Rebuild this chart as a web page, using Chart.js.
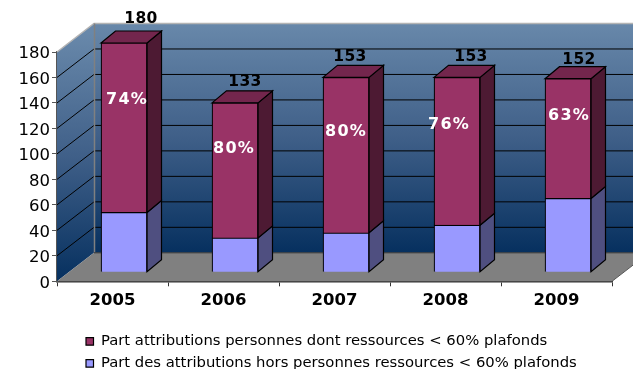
<!DOCTYPE html>
<html><head><meta charset="utf-8">
<style>html,body{margin:0;padding:0;background:#fff}#w{width:633px;height:369px;position:relative}</style>
<script src="https://cdn.jsdelivr.net/npm/chart.js@4"></script></head>
<body><div id="w"><canvas id="c" width="633" height="369"></canvas></div>
<script>
const categories = ['2005','2006','2007','2008','2009'];
const lowerShare = [47,27,31,37,58];
const upperShare = [133,106,122,116,94];
const totals = [180,133,153,153,152];
const percents = ['74%','80%','80%','76%','63%'];
const seriesUpperName = 'Part attributions personnes dont ressources < 60% plafonds';
const seriesLowerName = 'Part des attributions hors personnes ressources < 60% plafonds';
const yMax = 180, yStep = 20;

// styling of the 3D box
const DEPTH_X = 37, DEPTH_Y = 28.5;      // wall depth
const BAR_SHIFT_X = 11.5, BAR_SHIFT_Y = -9; // bars stand inside the floor
const BAR_DX = 14.5, BAR_DY = -12;       // bar depth
const totalDx = [17,10,4,14,11];
const totalDy = [-24,-21,-20,-20,-19];
const pctDx = [3,-1,0,-8,1];
const pctY = [135.5,97,110,116,123];     // axis height of percent label above bar base

function poly(ctx,pts,fill,stroke,lw){
  ctx.beginPath();pts.forEach((p,i)=>i?ctx.lineTo(p[0],p[1]):ctx.moveTo(p[0],p[1]));ctx.closePath();
  if(fill){ctx.fillStyle=fill;ctx.fill();}
  if(stroke){ctx.strokeStyle=stroke;ctx.lineWidth=lw||1;ctx.stroke();}
}
const box3d = {
  id:'box3d',
  beforeDatasetsDraw(chart){
    const {ctx,scales:{x,y}} = chart;
    const L=x.left,R=x.right,B=y.getPixelForValue(0),T=y.getPixelForValue(yMax);
    const bl=L+DEPTH_X,bb=B-DEPTH_Y,bt=T-DEPTH_Y,br=R+DEPTH_X;
    ctx.save();
    const g=ctx.createLinearGradient(0,bt,0,bb);
    g.addColorStop(0,'#6888aa');g.addColorStop(.5,'#3f5f88');g.addColorStop(1,'#06305f');
    poly(ctx,[[bl,bt],[br,bt],[br,bb],[bl,bb]],g);
    const g2=ctx.createLinearGradient(0,bt+10,0,B);
    g2.addColorStop(0,'#6888aa');g2.addColorStop(.5,'#3f5f88');g2.addColorStop(1,'#06305f');
    poly(ctx,[[L,T],[bl,bt],[bl,bb],[L,B]],g2);
    poly(ctx,[[L,B],[bl,bb],[br,bb],[R,B]],'#808080');
    y.ticks.forEach(t=>{
      if(t.value===0||t.value===yMax) return;
      const p=y.getPixelForValue(t.value);
      ctx.strokeStyle='#000';ctx.lineWidth=1;
      ctx.beginPath();ctx.moveTo(L,p);ctx.lineTo(bl,p-DEPTH_Y);ctx.lineTo(br,p-DEPTH_Y);ctx.stroke();
    });
    ctx.strokeStyle='#b4b4b4';ctx.lineWidth=1.5;
    ctx.beginPath();ctx.moveTo(L,T);ctx.lineTo(bl,bt);ctx.lineTo(br,bt);ctx.stroke();
    ctx.strokeStyle='#808080';ctx.lineWidth=1.5;
    ctx.beginPath();ctx.moveTo(bl+.5,bt);ctx.lineTo(bl+.5,bb);ctx.stroke();
    ctx.strokeStyle='#333';ctx.lineWidth=1;
    ctx.beginPath();ctx.moveTo(bl,bb);ctx.lineTo(br,bb);ctx.stroke();
    ctx.strokeStyle='#555';
    ctx.beginPath();ctx.moveTo(R,B);ctx.lineTo(br,bb);ctx.stroke();
    ctx.restore();
    ctx.save();
    ctx.translate(BAR_SHIFT_X,BAR_SHIFT_Y);
    // depth faces of every bar
    const sides=['#4f4f80','#4d1a33'];
    [0,1].forEach(ds=>{
      chart.getDatasetMeta(ds).data.forEach(b=>{
        const r=b.x+b.width/2,t=b.y,bo=b.base;
        poly(ctx,[[r,t],[r+BAR_DX,t+BAR_DY],[r+BAR_DX,bo+BAR_DY],[r,bo]],sides[ds],'#000',1.2);
        if(ds===1){
          const l=b.x-b.width/2;
          poly(ctx,[[l,t],[l+BAR_DX,t+BAR_DY],[r+BAR_DX,t+BAR_DY],[r,t]],'#73264d','#000',1.2);
        }
      });
    });
  },
  afterDatasetsDraw(chart){
    const {ctx,scales:{y}} = chart;
    ctx.restore();
    ctx.save();
    ctx.textAlign='center';ctx.textBaseline='middle';
    const upper=chart.getDatasetMeta(1).data;
    upper.forEach((b,i)=>{
      ctx.fillStyle='#000';ctx.font='bold 15.5px "DejaVu Sans"';ctx.letterSpacing='0.4px';
      ctx.fillText(String(totals[i]),b.x+BAR_SHIFT_X+totalDx[i],b.y+BAR_SHIFT_Y+totalDy[i]);
      ctx.fillStyle='#fff';ctx.font='bold 16px "DejaVu Sans"';ctx.letterSpacing='1.2px';
      ctx.fillText(percents[i],b.x+BAR_SHIFT_X+pctDx[i],y.getPixelForValue(pctY[i])+BAR_SHIFT_Y);
    });
    ctx.restore();
  },
  afterLayout(chart){
    const l=chart.legend;
    const w=l.width,h=l.height,pad=l.options.labels.padding;
    l.left=86-pad; l.right=l.left+w;
    l.top=334-pad; l.bottom=l.top+h;
  }
};
new Chart(document.getElementById('c'),{
  type:'bar',
  data:{labels:categories,datasets:[
    {label:seriesLowerName,data:lowerShare,backgroundColor:'#9999ff',borderColor:'#000',borderWidth:1.2,clip:false,stack:'s'},
    {label:seriesUpperName,data:upperShare,backgroundColor:'#993366',borderColor:'#000',borderWidth:1.2,clip:false,stack:'s'}
  ]},
  options:{
    responsive:false,animation:false,
    layout:{autoPadding:false,padding:{top:52,right:21,left:0,bottom:0}},
    datasets:{bar:{barThickness:46}},
    plugins:{tooltip:{enabled:false},
      legend:{position:'bottom',align:'start',reverse:true,
        labels:{boxWidth:7.5,boxHeight:7.5,padding:7.2,color:'#000',font:{family:'"DejaVu Sans"',size:14.8}}}},
    scales:{
      x:{stacked:true,offset:true,
        afterFit(s){s.height=33.7;},
        grid:{offset:true,drawOnChartArea:false,drawTicks:true,tickLength:5,color:'#333'},
        border:{color:'#333',width:1.5},
        ticks:{color:'#000',padding:5,font:{family:'"DejaVu Sans"',size:16.5,weight:'bold'},maxRotation:0}},
      y:{stacked:true,min:0,max:yMax,
        afterFit(s){s.width=57;},
        grid:{drawOnChartArea:false,tickLength:5,color:'#555'},
        border:{color:'#555',width:2},
        ticks:{stepSize:yStep,color:'#000',padding:2,labelOffset:2,font:{family:'"DejaVu Sans"',size:16.5}}}
    }
  },
  plugins:[box3d]
});
</script></body></html>
